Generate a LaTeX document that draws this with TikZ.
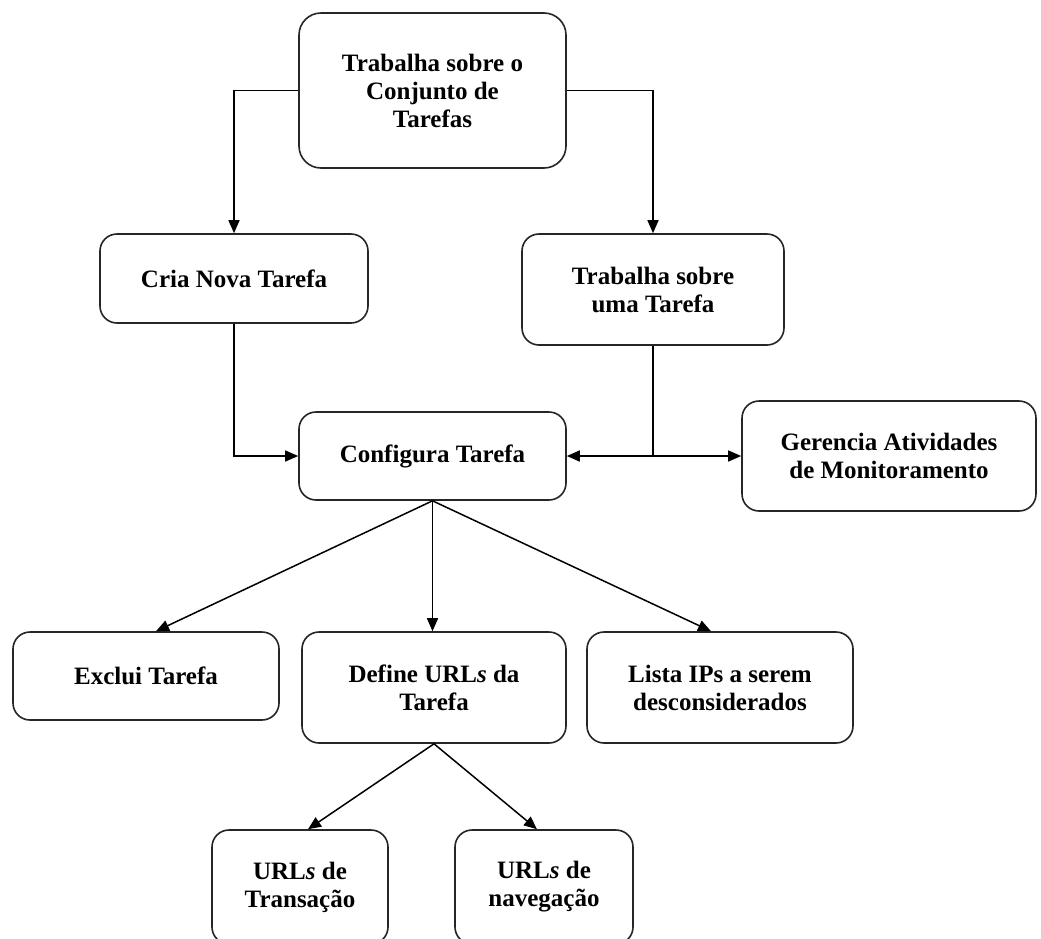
\documentclass[tikz,border=0pt]{standalone}
\usepackage{fontspec}
\setmainfont{Liberation Serif}
\usetikzlibrary{arrows.meta}
\begin{document}
\begin{tikzpicture}[x=1pt,y=-1pt,
  box/.style={draw=black!85, line width=1.6pt, rounded corners=17pt, align=center,
    font=\bfseries\fontsize{25}{28}\selectfont, inner sep=0pt},
  link/.style={line width=1.5pt, -{Triangle[length=13pt,width=11pt]}},
  wire/.style={line width=1.5pt}]
\useasboundingbox (0,0) rectangle (1041,938);
\clip (0,0) rectangle (1041,938);
\fill[white] (0,0) rectangle (1041,938);

% task hierarchy boxes
\node[box, rounded corners=22pt, minimum width=267pt, minimum height=155pt] (top) at (432.5,90.5)
  {Trabalha sobre o\\Conjunto de\\Tarefas};
\node[box, minimum width=268pt, minimum height=89pt] (cria) at (234,278.5) {Cria Nova Tarefa};
\node[box, minimum width=262pt, minimum height=111pt] (uma) at (653,289.5) {Trabalha sobre\\uma Tarefa};
\node[box, minimum width=267pt, minimum height=88pt] (conf) at (432.5,456) {Configura Tarefa};
\node[box, minimum width=294pt, minimum height=110pt] (ger) at (889,456) {Gerencia Atividades\\de Monitoramento};
\node[box, minimum width=266pt, minimum height=88pt] (excl) at (146,676) {Exclui Tarefa};
\node[box, minimum width=264pt, minimum height=111pt] (def) at (434,687.5) {Define URL\textit{s} da\\Tarefa};
\node[box, minimum width=266pt, minimum height=111pt] (lista) at (720,687.5) {Lista IPs a serem\\desconsiderados};
\node[box, minimum width=176pt, minimum height=114pt] (trans) at (300,887) {URL\textit{s} de\\Transação};
\node[box, minimum width=178pt, minimum height=114pt] (nav) at (544,887) {URL\textit{s} de\\navegação};

% connectors
\draw[link] (top.west) -| (cria.north);
\draw[link] (top.east) -| (uma.north);
\draw[link] (cria.south) |- (conf.west);
\coordinate (j) at (uma.south |- conf.east);
\draw[wire] (uma.south) -- (j);
\draw[link] (j) -- (conf.east);
\draw[link] (j) -- (ger.west);
\draw[link] (conf.south) -- ([xshift=10pt]excl.north);
\draw[link] (conf.south) -- (conf.south |- def.north);
\draw[link] (conf.south) -- ([xshift=-9pt]lista.north);
\draw[link] (def.south) -- ([xshift=8pt]trans.north);
\draw[link] (def.south) -- ([xshift=-7pt]nav.north);
\end{tikzpicture}
\end{document}
